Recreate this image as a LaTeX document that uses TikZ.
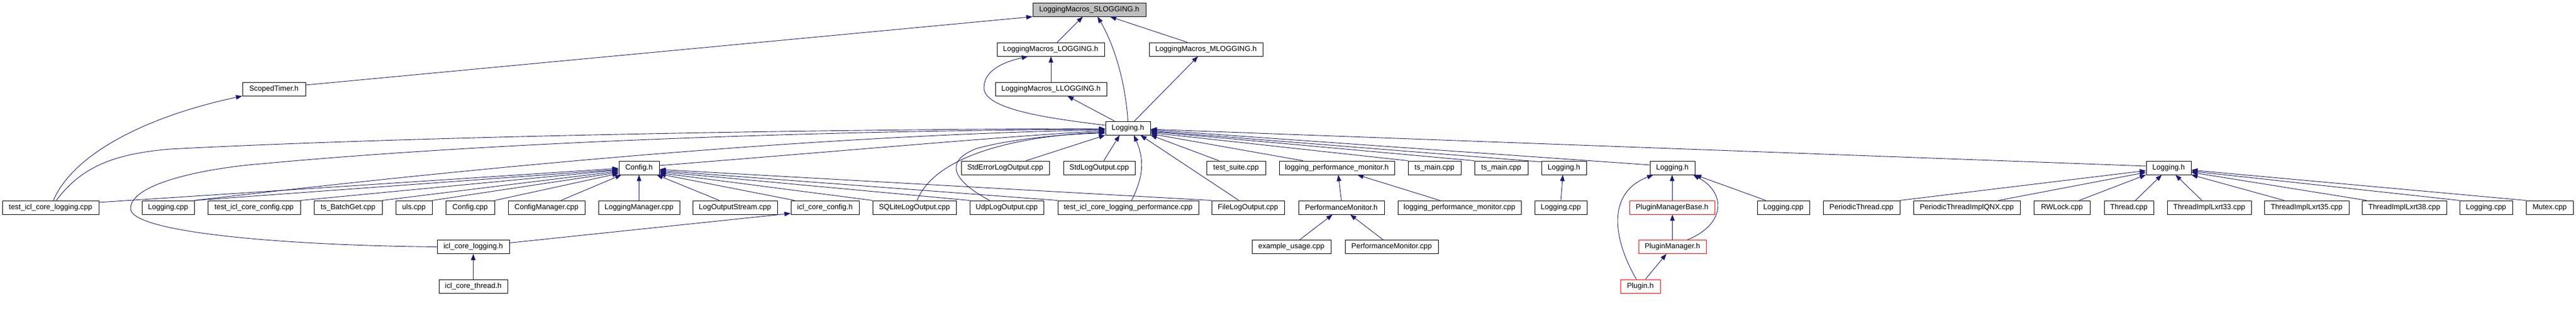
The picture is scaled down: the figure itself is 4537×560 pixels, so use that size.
\documentclass[tikz,border=0pt]{standalone}
\usepackage{fontspec}
\setmainfont{Liberation Sans}
\usetikzlibrary{arrows.meta,calc}
\definecolor{midnight}{HTML}{191970}
\definecolor{rootgray}{HTML}{BFBFBF}
\definecolor{redbox}{HTML}{FF0000}
\begin{document}
\begin{tikzpicture}[x=1pt,y=-1pt,
  box/.style={draw=black, line width=0.9pt, fill=white, inner sep=0pt, minimum height=24pt, font=\fontsize{13}{15}\selectfont, anchor=center},
  rootbox/.style={box, fill=rootgray},
  redbx/.style={box, draw=redbox},
  dep/.style={draw=midnight, line width=0.9pt, -{Triangle[length=11pt,width=8pt]}}]
\useasboundingbox[fill=white] (0,0) rectangle (4537,560);
% row 0-3
\node[rootbox, minimum width=199pt] (slog) at (1918.5,17) {LoggingMacros\_SLOGGING.h};
\node[box, minimum width=189pt] (lmlog) at (1850.5,87) {LoggingMacros\_LOGGING.h};
\node[box, minimum width=200pt] (mlog) at (2124,87) {LoggingMacros\_MLOGGING.h};
\node[box, minimum width=196pt] (llog) at (1851,157) {LoggingMacros\_LLOGGING.h};
\node[box, minimum width=111pt] (scoped) at (482.5,157) {ScopedTimer.h};
\node[box, minimum width=79pt] (logh) at (1986.5,226) {Logging.h};
% row 4
\node[box, minimum width=71pt] (configh) at (1125.5,296) {Config.h};
\node[box, minimum width=155pt] (stderr) at (1770.5,296) {StdErrorLogOutput.cpp};
\node[box, minimum width=126pt] (stdlog) at (1936,296) {StdLogOutput.cpp};
\node[box, minimum width=104pt] (tsuite) at (2177,296) {test\_suite.cpp};
\node[box, minimum width=203pt] (lpmh) at (2354.5,296) {logging\_performance\_monitor.h};
\node[box, minimum width=93pt] (tsmain1) at (2526.5,296) {ts\_main.cpp};
\node[box, minimum width=94pt] (tsmain2) at (2644,296) {ts\_main.cpp};
\node[box, minimum width=79pt] (logh2) at (2754.5,296) {Logging.h};
\node[box, minimum width=79pt] (logh3) at (2945.5,296) {Logging.h};
\node[box, minimum width=79pt] (logh4) at (3819.5,296) {Logging.h};
% row 5
\node[box, minimum width=170pt] (ticl) at (89,366) {test\_icl\_core\_logging.cpp};
\node[box, minimum width=92pt] (logcpp1) at (296,366) {Logging.cpp};
\node[box, minimum width=163pt] (ticc) at (447.5,366) {test\_icl\_core\_config.cpp};
\node[box, minimum width=120pt] (batch) at (613,366) {ts\_BatchGet.cpp};
\node[box, minimum width=64pt] (uls) at (729,366) {uls.cpp};
\node[box, minimum width=86pt] (configcpp) at (828,366) {Config.cpp};
\node[box, minimum width=135pt] (cfgmgr) at (962.5,366) {ConfigManager.cpp};
\node[box, minimum width=143pt] (logmgr) at (1125.5,366) {LoggingManager.cpp};
\node[box, minimum width=149pt] (los) at (1294.5,366) {LogOutputStream.cpp};
\node[box, minimum width=120pt] (icch) at (1453,366) {icl\_core\_config.h};
\node[box, minimum width=147pt] (sqlite) at (1610.5,366) {SQLiteLogOutput.cpp};
\node[box, minimum width=130pt] (udp) at (1773,366) {UdpLogOutput.cpp};
\node[box, minimum width=248pt] (ticlp) at (1987,366) {test\_icl\_core\_logging\_performance.cpp};
\node[box, minimum width=128pt] (filelog) at (2198,366) {FileLogOutput.cpp};
\node[box, minimum width=151pt] (pmh) at (2362.5,366) {PerformanceMonitor.h};
\node[box, minimum width=217pt] (lpmcpp) at (2570.5,366) {logging\_performance\_monitor.cpp};
\node[box, minimum width=92pt] (logcpp2) at (2749,366) {Logging.cpp};
\node[redbx, minimum width=150pt] (pmbh) at (2945,366) {PluginManagerBase.h};
\node[box, minimum width=92pt] (logcpp3) at (3141,366) {Logging.cpp};
\node[box, minimum width=135pt] (pt) at (3278.5,366) {PeriodicThread.cpp};
\node[box, minimum width=188pt] (ptqnx) at (3464,366) {PeriodicThreadImplQNX.cpp};
\node[box, minimum width=99pt] (rw) at (3631.5,366) {RWLock.cpp};
\node[box, minimum width=87pt] (thr) at (3749.5,366) {Thread.cpp};
\node[box, minimum width=148pt] (t33) at (3891,366) {ThreadImplLxrt33.cpp};
\node[box, minimum width=149pt] (t35) at (4062.5,366) {ThreadImplLxrt35.cpp};
\node[box, minimum width=149pt] (t38) at (4234.5,366) {ThreadImplLxrt38.cpp};
\node[box, minimum width=93pt] (logcpp4) at (4378.5,366) {Logging.cpp};
\node[box, minimum width=83pt] (mutex) at (4490.5,366) {Mutex.cpp};
% row 6-7
\node[box, minimum width=127pt] (iclh) at (833.5,435.5) {icl\_core\_logging.h};
\node[box, minimum width=139pt] (example) at (2274.5,435.5) {example\_usage.cpp};
\node[box, minimum width=164pt] (pmcpp) at (2451,435.5) {PerformanceMonitor.cpp};
\node[redbx, minimum width=119pt] (pmh2) at (2945.5,435.5) {PluginManager.h};
\node[box, minimum width=121pt] (threadh) at (833.5,505) {icl\_core\_thread.h};
\node[redbx, minimum width=70pt] (plugin) at (2889,505) {Plugin.h};

% edges to LoggingMacros_SLOGGING.h
\draw[dep] ([yshift=7pt]scoped.east) -- (slog.south west);
\draw[dep] ([xshift=11.5pt]lmlog.north) -- ([xshift=-11.5pt]slog.south);
\draw[dep] (logh.north) .. controls (1982,140) and (1960,75) .. ([xshift=14.5pt]slog.south);
\draw[dep] ([xshift=-33pt]mlog.north) -- ([xshift=36.5pt]slog.south);
% macros
\draw[dep] (llog.north) -- (llog.north |- lmlog.south);
\draw[dep] ([yshift=5pt]logh.west) .. controls (1860,210) and (1733,195) .. (1733,155) .. controls (1733,125) and (1765,110) .. ([xshift=-40pt]lmlog.south);
\draw[dep] ([xshift=-23.5pt]logh.north) -- ([xshift=29pt]llog.south);
\draw[dep] ([xshift=11.5pt]logh.north) -- ([xshift=-14pt]mlog.south);
\draw[dep] ([xshift=5pt]ticl.north) .. controls (130,270) and (260,205) .. (scoped.south west);
% to Logging.h from the left
\draw[dep] ([xshift=10pt]ticl.north) .. controls (140,300) and (190,272) .. (300,263) .. controls (700,242) and (1400,228) .. ([yshift=-1pt]logh.west);
\draw[dep] (iclh.west) .. controls (500,433) and (230,410) .. (230,368) .. controls (230,320) and (380,295) .. (460,289) .. controls (900,248) and (1500,230) .. ([yshift=-2pt]logh.west);
\draw[dep] ([yshift=7pt]iclh.east) -- ([yshift=2pt]icch.south west);
\draw[dep] (threadh.north) -- (iclh.south);
% Config.h
\draw[dep] ([yshift=9pt]ticl.east) -- ([yshift=-1pt]configh.west);
\draw[dep] (logcpp1.north east) -- ([yshift=-3pt]configh.west);
\draw[dep] (logcpp1.north east) .. controls (800,300) and (1400,240) .. ([yshift=-3pt]logh.west);
\draw[dep] (ticc.north east) -- ([yshift=-4pt]configh.west);
\draw[dep] (batch.north east) -- ([yshift=-6pt]configh.west);
\draw[dep] (uls.north east) -- ([yshift=-8pt]configh.west);
\draw[dep] (configcpp.north east) -- ([yshift=-10pt]configh.west);
\draw[dep] ([xshift=25.5pt]cfgmgr.north) -- ([xshift=5pt]configh.south west);
\draw[dep] (logmgr.north) -- (configh.south);
\draw[dep] ([xshift=-27.5pt]los.north) -- ([xshift=-5pt]configh.south east);
\draw[dep] ([xshift=7pt]icch.north west) -- ([yshift=-11pt]configh.east);
\draw[dep] (sqlite.north west) -- ([yshift=-9pt]configh.east);
\draw[dep] (udp.north west) -- ([yshift=-7pt]configh.east);
\draw[dep] (ticlp.north west) -- ([yshift=-5pt]configh.east);
\draw[dep] (filelog.north west) -- ([yshift=-3pt]configh.east);
% Logging.h bottom
\draw[dep] ([yshift=4pt]configh.east) .. controls (1500,265) and (1800,238) .. ([yshift=-5pt]logh.west);
\draw[dep] ([xshift=36.5pt]stderr.north) -- (logh.south west);
\draw[dep] ([xshift=8pt]stdlog.north) -- ([xshift=-14.5pt]logh.south);
\draw[dep] ([xshift=6pt]ticlp.north) .. controls (2015,310) and (2015,280) .. ([xshift=10.5pt]logh.south);
\draw[dep] ([xshift=-16pt]filelog.north) -- ([xshift=22pt]logh.south);
\draw[dep] ([xshift=-30pt]tsuite.north) -- (logh.south east);
\draw[dep] ([xshift=4.5pt]sqlite.north) .. controls (1650,270) and (1800,240) .. ([yshift=-7pt]logh.west);
\draw[dep] ([xshift=-30pt]udp.north) .. controls (1680,320) and (1660,285) .. (1720,262) .. controls (1780,245) and (1880,236) .. ([yshift=-9pt]logh.west);
% Logging.h right
\draw[dep] ([xshift=-59.5pt]lpmh.north) -- ([yshift=-10pt]logh.east);
\draw[dep] (tsmain1.north west) -- ([yshift=-8pt]logh.east);
\draw[dep] (tsmain2.north west) -- ([yshift=-6pt]logh.east);
\draw[dep] ([yshift=-2pt]logh2.north west) -- ([yshift=-5pt]logh.east);
\draw[dep] ([yshift=5pt]logh3.west) -- ([yshift=-3pt]logh.east);
\draw[dep] ([yshift=3pt]logh4.west) -- ([yshift=-2pt]logh.east);
% second level
\draw[dep] (logcpp2.north) -- ([xshift=-2pt]logh2.south);
\draw[dep] (pmh.north) -- ([xshift=2.5pt]lpmh.south);
\draw[dep] ([xshift=-34.5pt]lpmcpp.north) -- ([xshift=36pt]lpmh.south);
\draw[dep] ([xshift=14.5pt]example.north) -- ([xshift=-15.5pt]pmh.south);
\draw[dep] ([xshift=-15pt]pmcpp.north) -- ([xshift=15.5pt]pmh.south);
\draw[dep] (pmbh.north) -- (pmbh.north |- logh3.south);
\draw[dep] ([xshift=-7pt]plugin.north) .. controls (2840,420) and (2830,340) .. ([xshift=-33.5pt]logh3.south);
\draw[dep] ([xshift=26.5pt]pmh2.north) .. controls (3040,395) and (3040,340) .. ([xshift=36.5pt]logh3.south);
\draw[dep] ([xshift=-31pt]logcpp3.north) -- (logh3.south east);
\draw[dep] (pmh2.north) -- (pmh2.north |- pmbh.south);
\draw[dep] ([xshift=9pt]plugin.north) -- ([xshift=-10.5pt]pmh2.south);
% Logging.h (4)
\draw[dep] (pt.north east) -- ([yshift=-5pt]logh4.west);
\draw[dep] ([xshift=56pt]ptqnx.north) -- ([yshift=-8pt]logh4.west);
\draw[dep] ([xshift=30.5pt]rw.north) -- (logh4.south west);
\draw[dep] ([xshift=11.5pt]thr.north) -- ([xshift=-12pt]logh4.south);
\draw[dep] ([xshift=-13pt]t33.north) -- ([xshift=12pt]logh4.south);
\draw[dep] ([xshift=-39.5pt]t35.north) -- (logh4.south east);
\draw[dep] ([xshift=-66.5pt]t38.north) -- ([yshift=-8pt]logh4.east);
\draw[dep] (logcpp4.north west) -- ([yshift=-6pt]logh4.east);
\draw[dep] (mutex.north west) -- ([yshift=-4pt]logh4.east);
\end{tikzpicture}
\end{document}
